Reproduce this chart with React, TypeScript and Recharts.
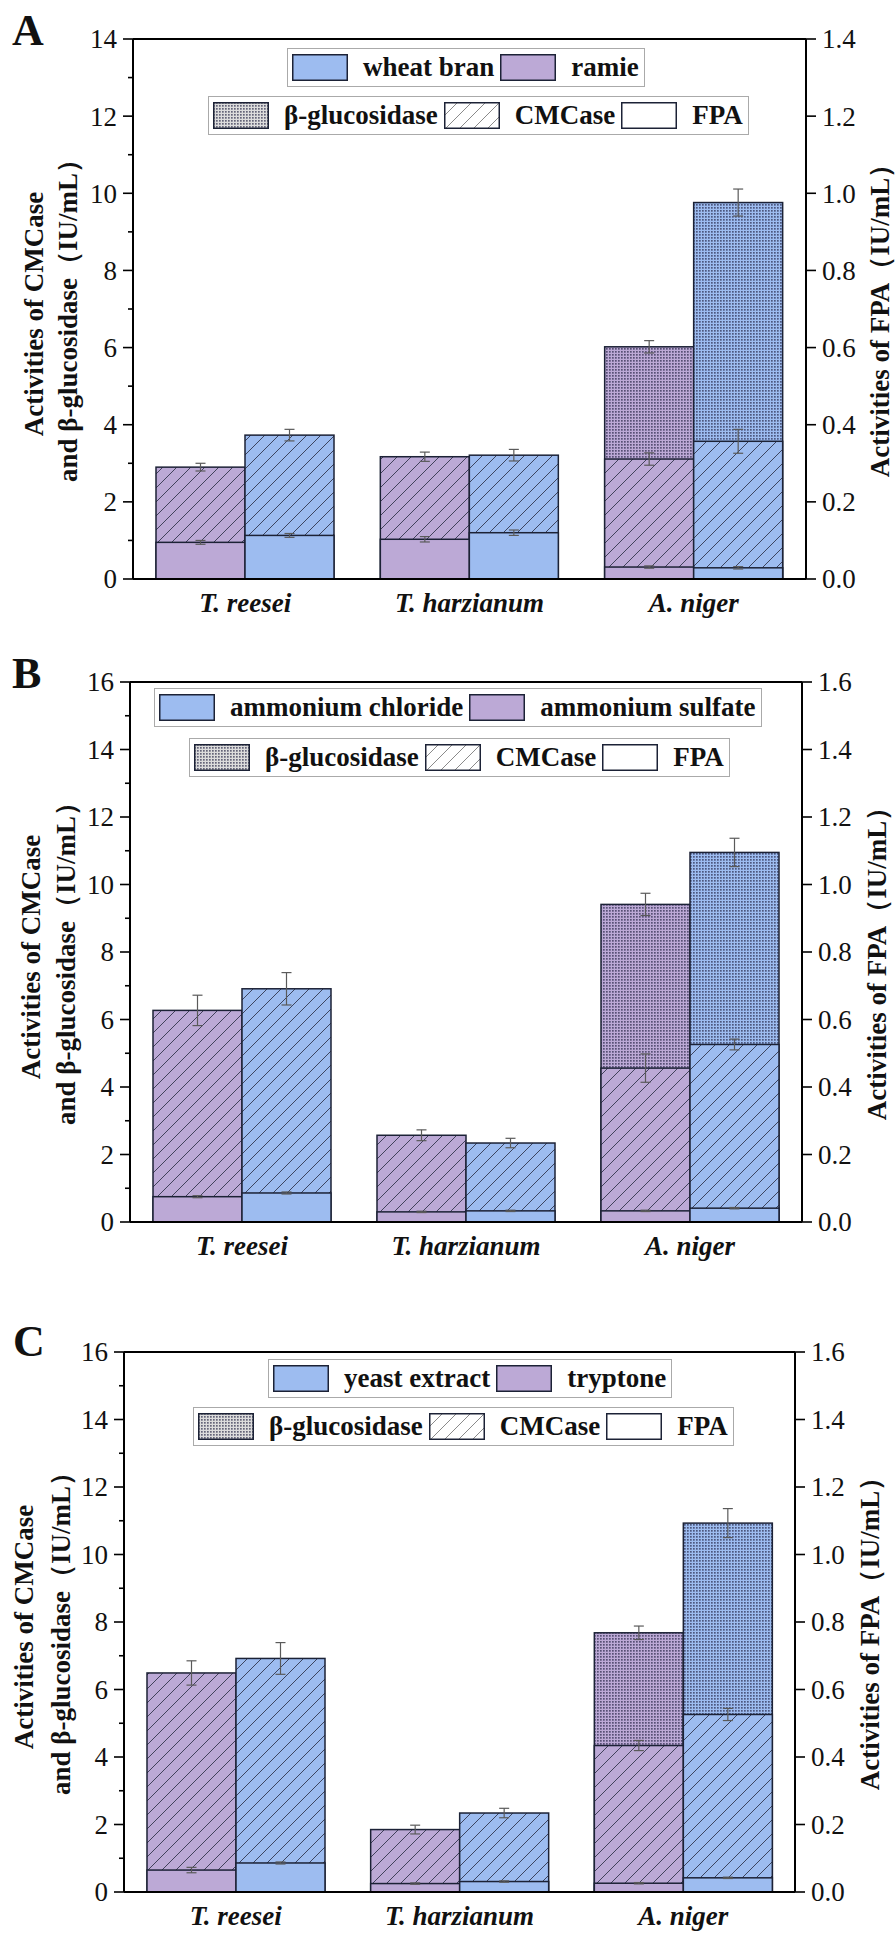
import React from "react";
import { Bar, BarChart, ErrorBar, ReferenceLine, XAxis, YAxis } from "recharts";

const SERIF = "'Liberation Serif', 'Times New Roman', serif";
const PURPLE = "#bca9d6";
const BLUE = "#9dbcf0";
const EDGE = "#1c2236";

const strains = ["T. reesei", "T. harzianum", "A. niger"];

// hidden beta-glucosidase bars (behind CMCase) are left empty
// Panel A: ramie (purple) / wheat bran (blue)
const aBglRamie = [null, null, 6.02];
const aBglRamieErr = [null, null, 0.16];
const aBglWheat = [null, null, 9.76];
const aBglWheatErr = [null, null, 0.35];
const aCmcRamie = [2.9, 3.17, 3.11];
const aCmcRamieErr = [0.1, 0.12, 0.16];
const aCmcWheat = [3.73, 3.21, 3.57];
const aCmcWheatErr = [0.15, 0.15, 0.31];
const aFpaRamie = [0.095, 0.103, 0.031];
const aFpaRamieErr = [0.005, 0.007, 0.003];
const aFpaWheat = [0.113, 0.12, 0.029];
const aFpaWheatErr = [0.005, 0.007, 0.003];

// Panel B: ammonium sulfate (purple) / ammonium chloride (blue)
const bBglSulfate = [null, null, 9.41];
const bBglSulfateErr = [null, null, 0.33];
const bBglChloride = [null, null, 10.95];
const bBglChlorideErr = [null, null, 0.42];
const bCmcSulfate = [6.27, 2.57, 4.56];
const bCmcSulfateErr = [0.45, 0.16, 0.42];
const bCmcChloride = [6.91, 2.34, 5.26];
const bCmcChlorideErr = [0.48, 0.14, 0.16];
const bFpaSulfate = [0.075, 0.03, 0.033];
const bFpaSulfateErr = [0.003, 0.002, 0.002];
const bFpaChloride = [0.086, 0.033, 0.041];
const bFpaChlorideErr = [0.003, 0.002, 0.002];

// Panel C: tryptone (purple) / yeast extract (blue)
const cBglTryptone = [null, null, 7.68];
const cBglTryptoneErr = [null, null, 0.2];
const cBglYeast = [null, null, 10.93];
const cBglYeastErr = [null, null, 0.43];
const cCmcTryptone = [6.49, 1.85, 4.34];
const cCmcTryptoneErr = [0.36, 0.13, 0.15];
const cCmcYeast = [6.92, 2.34, 5.26];
const cCmcYeastErr = [0.47, 0.14, 0.18];
const cFpaTryptone = [0.065, 0.025, 0.026];
const cFpaTryptoneErr = [0.008, 0.002, 0.002];
const cFpaYeast = [0.086, 0.031, 0.042];
const cFpaYeastErr = [0.003, 0.002, 0.002];

const ticks14 = [0, 1, 2, 3, 4, 5, 6, 7, 8, 9, 10, 11, 12, 13, 14];
const ticks16 = [0, 1, 2, 3, 4, 5, 6, 7, 8, 9, 10, 11, 12, 13, 14, 15, 16];
const rTicks14 = [0, 0.2, 0.4, 0.6, 0.8, 1.0, 1.2, 1.4];
const rTicks16 = [0, 0.2, 0.4, 0.6, 0.8, 1.0, 1.2, 1.4, 1.6];

type Arr = (number | null)[];
const buildRows = (s: Arr[]) =>
  strains.map((strain, i) => ({
    strain,
    bglP: s[0][i], bglPErr: s[1][i], bglB: s[2][i], bglBErr: s[3][i],
    cmcP: s[4][i], cmcPErr: s[5][i], cmcB: s[6][i], cmcBErr: s[7][i],
    fpaP: s[8][i], fpaPErr: s[9][i], fpaB: s[10][i], fpaBErr: s[11][i],
  }));

const rowsA = buildRows([aBglRamie, aBglRamieErr, aBglWheat, aBglWheatErr, aCmcRamie, aCmcRamieErr, aCmcWheat, aCmcWheatErr, aFpaRamie, aFpaRamieErr, aFpaWheat, aFpaWheatErr]);
const rowsB = buildRows([bBglSulfate, bBglSulfateErr, bBglChloride, bBglChlorideErr, bCmcSulfate, bCmcSulfateErr, bCmcChloride, bCmcChlorideErr, bFpaSulfate, bFpaSulfateErr, bFpaChloride, bFpaChlorideErr]);
const rowsC = buildRows([cBglTryptone, cBglTryptoneErr, cBglYeast, cBglYeastErr, cCmcTryptone, cCmcTryptoneErr, cCmcYeast, cCmcYeastErr, cFpaTryptone, cFpaTryptoneErr, cFpaYeast, cFpaYeastErr]);

const makeShape = (color: string, pattern: string | null) => (p: any) => {
  const { x, y, width, height } = p;
  if (!width || !height || height <= 0) return <g />;
  return (
    <g>
      <rect x={x} y={y} width={width} height={height} fill={color} />
      {pattern && <rect x={x} y={y} width={width} height={height} fill={`url(#${pattern})`} />}
      <rect x={x} y={y} width={width} height={height} fill="none" stroke={EDGE} strokeWidth={1.5} />
    </g>
  );
};

const LeftTick = (props: any) => {
  const { x, y, payload } = props;
  const v = payload.value;
  const major = v % 2 === 0;
  return (
    <g>
      <line x1={x - (major ? 10 : 5)} x2={x} y1={y} y2={y} stroke="#000" strokeWidth={1.6} />
      {major && (
        <text x={x - 16} y={y} dy="0.35em" textAnchor="end" fontFamily={SERIF} fontSize={27} fill="#111">
          {v}
        </text>
      )}
    </g>
  );
};

const RightTick = (props: any) => {
  const { x, y, payload } = props;
  return (
    <g>
      <line x1={x} x2={x + 10} y1={y} y2={y} stroke="#000" strokeWidth={1.6} />
      <text x={x + 16} y={y} dy="0.35em" textAnchor="start" fontFamily={SERIF} fontSize={27} fill="#111">
        {Number(payload.value).toFixed(1)}
      </text>
    </g>
  );
};

const XTick = (props: any) => {
  const { x, y, payload } = props;
  return (
    <text x={x} y={y + 33} textAnchor="middle" fontFamily={SERIF} fontSize={27} fontWeight="bold" fontStyle="italic" fill="#111">
      {payload.value}
    </text>
  );
};

const axisLine = { stroke: "#000", strokeWidth: 2 };
const errProps = { stroke: "#5a5a5a", strokeWidth: 1.2, width: 5 };

type PanelProps = {
  rows: any[];
  top: number;
  height: number;
  margin: { top: number; right: number; bottom: number; left: number };
  leftMax: number;
  leftTicks: number[];
  rightMax: number;
  rightTicks: number[];
};

const Panel = ({ rows, top, height, margin, leftMax, leftTicks, rightMax, rightTicks }: PanelProps) => (
  <div style={{ position: "absolute", left: 0, top }}>
    <BarChart width={896} height={height} data={rows} margin={margin} barCategoryGap={23} barGap={0}>
      <XAxis xAxisId="b" dataKey="strain" height={40} tickLine={false} tickSize={0} tickMargin={0} interval={0} axisLine={axisLine} tick={XTick} />
      <XAxis xAxisId="c" dataKey="strain" hide />
      <XAxis xAxisId="f" dataKey="strain" hide />
      <YAxis yAxisId="left" width={80} domain={[0, leftMax]} ticks={leftTicks} interval={0} tickLine={false} tickSize={0} tickMargin={0} axisLine={axisLine} tick={LeftTick} />
      <YAxis yAxisId="right" orientation="right" width={90} domain={[0, rightMax]} ticks={rightTicks} interval={0} tickLine={false} tickSize={0} tickMargin={0} axisLine={axisLine} tick={RightTick} />
      <ReferenceLine xAxisId="b" yAxisId="left" y={leftMax} stroke="#000" strokeWidth={2} />
      <Bar xAxisId="b" yAxisId="left" dataKey="bglP" shape={makeShape(PURPLE, "dots")} isAnimationActive={false}>
        <ErrorBar dataKey="bglPErr" direction="y" {...errProps} />
      </Bar>
      <Bar xAxisId="b" yAxisId="left" dataKey="bglB" shape={makeShape(BLUE, "dots")} isAnimationActive={false}>
        <ErrorBar dataKey="bglBErr" direction="y" {...errProps} />
      </Bar>
      <Bar xAxisId="c" yAxisId="left" dataKey="cmcP" shape={makeShape(PURPLE, "hatch")} isAnimationActive={false}>
        <ErrorBar dataKey="cmcPErr" direction="y" {...errProps} />
      </Bar>
      <Bar xAxisId="c" yAxisId="left" dataKey="cmcB" shape={makeShape(BLUE, "hatch")} isAnimationActive={false}>
        <ErrorBar dataKey="cmcBErr" direction="y" {...errProps} />
      </Bar>
      <Bar xAxisId="f" yAxisId="right" dataKey="fpaP" shape={makeShape(PURPLE, null)} isAnimationActive={false}>
        <ErrorBar dataKey="fpaPErr" direction="y" {...errProps} />
      </Bar>
      <Bar xAxisId="f" yAxisId="right" dataKey="fpaB" shape={makeShape(BLUE, null)} isAnimationActive={false}>
        <ErrorBar dataKey="fpaBErr" direction="y" {...errProps} />
      </Bar>
    </BarChart>
  </div>
);

const Swatch = ({ kind }: { kind: string }) => {
  const base = kind === "blue" ? BLUE : kind === "purple" ? PURPLE : kind === "bgl" ? "#dcdcdc" : "#fff";
  const pat = kind === "bgl" ? "dots" : kind === "cmc" ? "hatchLight" : null;
  return (
    <svg width={56} height={27} style={{ display: "block", flex: "none" }}>
      <rect x={0.75} y={0.75} width={54.5} height={25.5} fill={base} />
      {pat && <rect x={0.75} y={0.75} width={54.5} height={25.5} fill={`url(#${pat})`} />}
      <rect x={0.75} y={0.75} width={54.5} height={25.5} fill="none" stroke={EDGE} strokeWidth={1.5} />
    </svg>
  );
};

const LegendBox = ({ left, top, items }: { left: number; top: number; items: { kind: string; label: string }[] }) => (
  <div
    style={{
      position: "absolute", left, top, height: 39, boxSizing: "border-box",
      border: "1.5px solid #aaa", display: "flex", alignItems: "center",
      paddingLeft: 4, paddingRight: 5, background: "#fff",
      fontFamily: SERIF, fontWeight: "bold", fontSize: 27, color: "#111", whiteSpace: "nowrap",
    }}
  >
    {items.map((it, i) => (
      <React.Fragment key={i}>
        <Swatch kind={it.kind} />
        <span style={{ marginLeft: 15, marginRight: i < items.length - 1 ? 6 : 0, lineHeight: "27px" }}>{it.label}</span>
      </React.Fragment>
    ))}
  </div>
);

const enzymeItems = [
  { kind: "bgl", label: "β-glucosidase" },
  { kind: "cmc", label: "CMCase" },
  { kind: "fpa", label: "FPA" },
];

const titles = [
  { letter: "A", lx: 12, ly: 45, l1: 43, l2: 77, r: 889, cy: 314 },
  { letter: "B", lx: 12, ly: 688, l1: 40, l2: 75, r: 886, cy: 957 },
  { letter: "C", lx: 13, ly: 1356, l1: 33, l2: 70, r: 879, cy: 1627 },
];

const App = () => (
  <div style={{ position: "absolute", left: 0, top: 0, width: 896, height: 1934, background: "#fff", overflow: "hidden" }}>
    <Panel rows={rowsA} top={0} height={620} margin={{ top: 39, right: 0, bottom: 1, left: 53 }} leftMax={14} leftTicks={ticks14} rightMax={1.4} rightTicks={rTicks14} />
    <Panel rows={rowsB} top={640} height={640} margin={{ top: 42, right: 4, bottom: 18, left: 50 }} leftMax={16} leftTicks={ticks16} rightMax={1.6} rightTicks={rTicks16} />
    <Panel rows={rowsC} top={1290} height={644} margin={{ top: 62, right: 11, bottom: 2, left: 44 }} leftMax={16} leftTicks={ticks16} rightMax={1.6} rightTicks={rTicks16} />

    <LegendBox left={287} top={48} items={[{ kind: "blue", label: "wheat bran" }, { kind: "purple", label: "ramie" }]} />
    <LegendBox left={208} top={96} items={enzymeItems} />
    <LegendBox left={154} top={688} items={[{ kind: "blue", label: "ammonium chloride" }, { kind: "purple", label: "ammonium sulfate" }]} />
    <LegendBox left={189} top={738} items={enzymeItems} />
    <LegendBox left={268} top={1359} items={[{ kind: "blue", label: "yeast extract" }, { kind: "purple", label: "tryptone" }]} />
    <LegendBox left={193} top={1407} items={enzymeItems} />

    <svg width={896} height={1934} style={{ position: "absolute", left: 0, top: 0, pointerEvents: "none" }}>
      <defs>
        <pattern id="dots" width={3} height={3} patternUnits="userSpaceOnUse">
          <rect width={1.7} height={1.7} fill="#1a1a3a" fillOpacity={0.62} />
        </pattern>
        <pattern id="hatch" width={14} height={14} patternUnits="userSpaceOnUse">
          <path d="M0,14 L14,0 M-3.5,3.5 L3.5,-3.5 M10.5,17.5 L17.5,10.5" stroke="#2b2f45" strokeWidth={1} strokeOpacity={0.85} />
        </pattern>
        <pattern id="hatchLight" width={14} height={14} patternUnits="userSpaceOnUse">
          <path d="M0,14 L14,0 M-3.5,3.5 L3.5,-3.5 M10.5,17.5 L17.5,10.5" stroke="#8a8a8a" strokeWidth={1} />
        </pattern>
      </defs>
      {titles.map((t) => (
        <g key={t.letter} fontFamily={SERIF} fontWeight="bold" fill="#111">
          <text x={t.lx} y={t.ly} fontSize={44}>{t.letter}</text>
          <text transform={`translate(${t.l1},${t.cy}) rotate(-90)`} textAnchor="middle" fontSize={27}>
            Activities of CMCase
          </text>
          <text transform={`translate(${t.l2},${t.cy}) rotate(-90)`} textAnchor="middle" fontSize={27}>
            and β-glucosidase（IU/mL）
          </text>
          <text transform={`translate(${t.r},${t.cy}) rotate(-90)`} textAnchor="middle" fontSize={27}>
            Activities of FPA（IU/mL）
          </text>
        </g>
      ))}
    </svg>
  </div>
);

export default App;
